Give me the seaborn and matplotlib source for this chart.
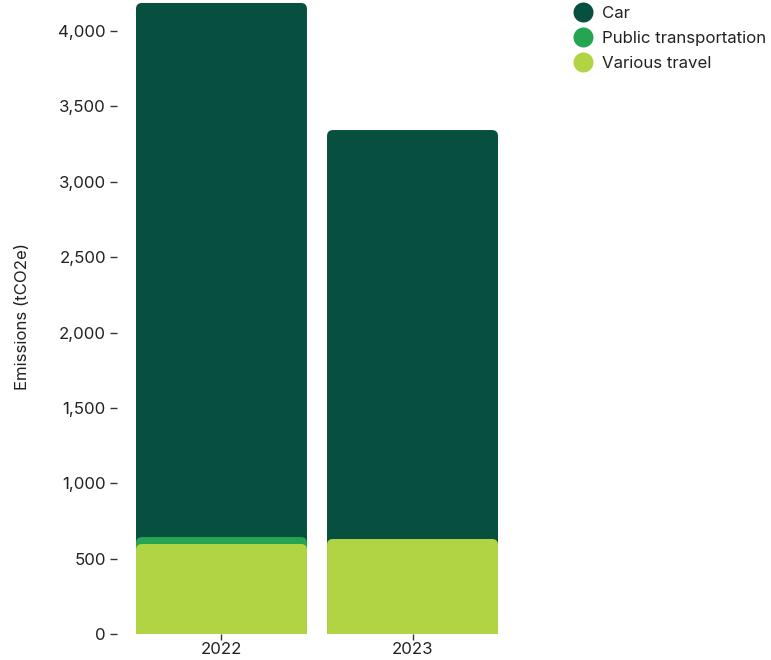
import matplotlib
matplotlib.use("Agg")
import matplotlib.pyplot as plt
from matplotlib.patches import FancyBboxPatch
from matplotlib.lines import Line2D
from matplotlib.ticker import FuncFormatter
import numpy as np
import pandas as pd
import seaborn as sns

years = ["2022", "2023"]
categories = ["Car", "Public transportation", "Various travel"]
car = [3543, 2713]
public_transport = [46, 0]
various_travel = [597, 630]
colors = ["#07503F", "#25A551", "#B0D443"]

sns.set_theme(style="white")
plt.rcParams["font.family"] = ["Inter", "DejaVu Sans"]
FS = 12.1

fig = plt.figure(figsize=(7.71, 6.60), dpi=100)
ax = fig.add_axes([117 / 771, 26 / 660, 400 / 771, 634 / 660])

# stacked totals, bottom layer first
layers = {
    "Various travel": np.array(various_travel),
    "Public transportation": np.array(various_travel) + np.array(public_transport),
    "Car": np.array(various_travel) + np.array(public_transport) + np.array(car),
}
color_map = dict(zip(categories, colors))

# draw from the tallest layer to the shortest so lower segments sit in front
order = ["Car", "Public transportation", "Various travel"]
bar_width = 0.895
for z, name in enumerate(order):
    df = pd.DataFrame({"year": years, "value": layers[name]})
    n_before = len(ax.patches)
    sns.barplot(data=df, x="year", y="value", color=color_map[name],
                width=bar_width, ax=ax, saturation=1, zorder=2 + z)
    new = ax.patches[n_before:]
    for p in list(new):
        x0, w, h = p.get_x(), p.get_width(), p.get_height()
        p.remove()
        if h <= 0:
            continue
        r_x = 6 / 191.0
        r_y = 6 / 0.15075
        box = FancyBboxPatch((x0, -200), w, h + 200,
                             boxstyle=f"round,pad=0,rounding_size={r_x}",
                             mutation_aspect=r_y / r_x,
                             facecolor=color_map[name], edgecolor="none",
                             zorder=2 + z)
        ax.add_patch(box)

ax.set_xlim(-0.547, 1.547)
ax.set_ylim(0, 634 / 0.15075)
ax.set_yticks(np.arange(0, 4001, 500))
ax.yaxis.set_major_formatter(FuncFormatter(lambda v, _: f"{int(v):,}"))
for s in ax.spines.values():
    s.set_visible(False)
ax.tick_params(axis="y", length=5, width=1, color="#333333",
               labelsize=FS, labelcolor="#222222", pad=3, left=True)
ax.tick_params(axis="x", length=4.5, width=1, color="#333333",
               labelsize=FS, labelcolor="#222222", pad=1.5, bottom=True)
ax.set_xlabel("")
ax.set_ylabel("Emissions (tCO2e)", fontsize=FS, color="#222222", labelpad=20)

handles = [Line2D([0], [0], marker="o", linestyle="none", markersize=14.4,
                  markerfacecolor=c, markeredgecolor="none") for c in colors]
fig.legend(handles, categories, loc="upper left", bbox_to_anchor=(573 / 771, 0.991),
           frameon=False, fontsize=FS, handlelength=1.2, handletextpad=0.55,
           labelspacing=0.6, borderaxespad=0, borderpad=0, labelcolor="#222222")

fig.savefig("out.png", dpi=100)
